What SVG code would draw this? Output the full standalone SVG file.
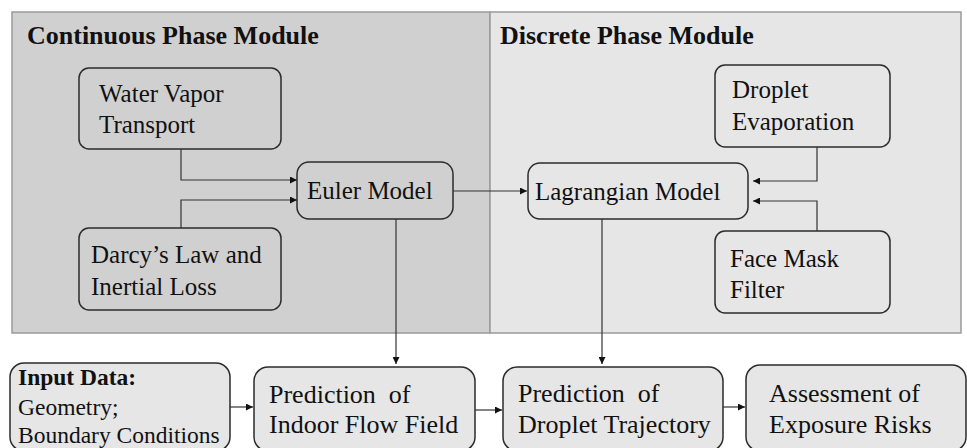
<svg xmlns="http://www.w3.org/2000/svg" width="967" height="448" viewBox="0 0 967 448" font-family="'Liberation Serif', 'Times New Roman', Times, 'DejaVu Serif', 'Noto Serif', serif">
  <style>
    text { font-family: "Liberation Serif", "Times New Roman", Times, "DejaVu Serif", "Noto Serif", serif; fill: #111; }
    .title { font-size: 26px; font-weight: bold; }
    .lbl { font-size: 25px; }
    .lbl2 { font-size: 26px; }
    .small { font-size: 23.5px; }
    .panel { stroke: #9a9a9a; stroke-width: 1.5; }
    .node { stroke: #2b2b2b; stroke-width: 1.5; }
    .dark { fill: #d0d0d0; }
    .light { fill: #e6e6e6; }
    .conn { fill: none; stroke: #333; stroke-width: 1.2; }
  </style>
  <defs>
    <marker id="arr" viewBox="0 0 10 10" refX="10" refY="5" markerWidth="7" markerHeight="7" markerUnits="userSpaceOnUse" orient="auto">
      <path d="M0,0 L10,5 L0,10 z" fill="#111"/>
    </marker>
  </defs>

  <rect width="967" height="448" fill="#ffffff"/>

  <!-- module panels -->
  <g id="continuous-phase">
    <rect class="panel dark" x="12" y="12" width="478" height="321"/>
    <text class="title" x="27" y="44">Continuous Phase Module</text>
  </g>
  <g id="discrete-phase">
    <rect class="panel light" x="490" y="12" width="471" height="321"/>
    <text class="title" x="500" y="44">Discrete Phase Module</text>
  </g>

  <!-- continuous phase nodes -->
  <g id="water-vapor">
    <rect class="node dark" x="79" y="68" width="202" height="81" rx="10"/>
    <text class="lbl" x="99" y="102">Water Vapor</text>
    <text class="lbl" x="99" y="133">Transport</text>
  </g>
  <g id="darcy">
    <rect class="node dark" x="79" y="228" width="202" height="82" rx="10"/>
    <text class="lbl" x="91" y="263">Darcy’s Law and</text>
    <text class="lbl" x="91" y="295">Inertial Loss</text>
  </g>
  <g id="euler">
    <rect class="node dark" x="297" y="162" width="156" height="57" rx="12"/>
    <text class="lbl" x="307" y="199">Euler Model</text>
  </g>

  <!-- discrete phase nodes -->
  <g id="lagrangian">
    <rect class="node light" x="528" y="163" width="220" height="56" rx="12"/>
    <text class="lbl" x="535" y="200">Lagrangian Model</text>
  </g>
  <g id="evaporation">
    <rect class="node light" x="715" y="65" width="175" height="82" rx="10"/>
    <text class="lbl" x="732" y="98">Droplet</text>
    <text class="lbl" x="732" y="130">Evaporation</text>
  </g>
  <g id="face-mask">
    <rect class="node light" x="715" y="231" width="175" height="82" rx="10"/>
    <text class="lbl" x="730" y="267">Face Mask</text>
    <text class="lbl" x="730" y="298">Filter</text>
  </g>

  <!-- bottom workflow row -->
  <g id="input-data">
    <rect class="node light" x="10" y="363" width="220" height="88" rx="14"/>
    <text class="small" x="18" y="385" font-weight="bold">Input Data:</text>
    <text class="small" x="18" y="415">Geometry;</text>
    <text class="small" x="18" y="443">Boundary Conditions</text>
  </g>
  <g id="flow-field">
    <rect class="node light" x="254" y="367" width="221" height="84" rx="14"/>
    <text class="lbl2" x="269" y="403" xml:space="preserve">Prediction  of</text>
    <text class="lbl2" x="269" y="433">Indoor Flow Field</text>
  </g>
  <g id="trajectory">
    <rect class="node light" x="503" y="367" width="220" height="84" rx="14"/>
    <text class="lbl2" x="518" y="402" xml:space="preserve">Prediction  of</text>
    <text class="lbl2" x="518" y="433">Droplet Trajectory</text>
  </g>
  <g id="exposure">
    <rect class="node light" x="746" y="365" width="220" height="86" rx="14"/>
    <text class="lbl2" x="769" y="402">Assessment of</text>
    <text class="lbl2" x="769" y="433">Exposure Risks</text>
  </g>

  <!-- connectors -->
  <g id="connectors">
    <path class="conn" d="M181,149 V180 H297" marker-end="url(#arr)"/>
    <path class="conn" d="M181,228 V200 H297" marker-end="url(#arr)"/>
    <path class="conn" d="M453,191 H527" marker-end="url(#arr)"/>
    <path class="conn" d="M817,147 V181 H753" marker-end="url(#arr)"/>
    <path class="conn" d="M817,231 V201 H753" marker-end="url(#arr)"/>
    <path class="conn" d="M396,219 V364" marker-end="url(#arr)"/>
    <path class="conn" d="M602,219 V364" marker-end="url(#arr)"/>
    <path class="conn" d="M230,407 H253" marker-end="url(#arr)"/>
    <path class="conn" d="M475,410 H502" marker-end="url(#arr)"/>
    <path class="conn" d="M723,407 H745" marker-end="url(#arr)"/>
  </g>
</svg>
